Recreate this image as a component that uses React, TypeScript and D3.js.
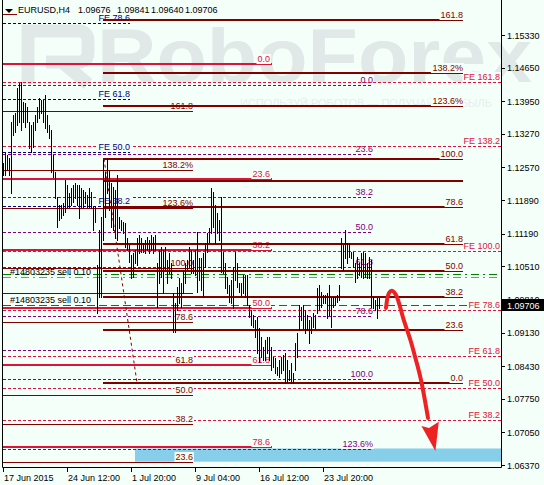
import React from 'react';
import * as d3 from 'd3';

const W = 544;
const H = 485;
const BG = '#F5FFFA';
const FONT = '"Liberation Sans", Arial, sans-serif';

// ---- OHLC bars (H4): highs and lows ----
const highs = [
  1.12662, 1.12871, 1.1283, 1.12767, 1.13517, 1.13663, 1.13704, 1.14225, 1.14329, 1.1435,
  1.13933, 1.13912, 1.13829, 1.13517, 1.13455, 1.13517, 1.13663, 1.13829, 1.14017, 1.13975,
  1.13975, 1.1408, 1.13663, 1.13455, 1.1335, 1.1283, 1.12475, 1.11954, 1.11787, 1.11787,
  1.11828, 1.12308, 1.12204, 1.12037, 1.12142, 1.12204, 1.12245, 1.12204, 1.12204, 1.12142,
  1.121, 1.12058, 1.11996, 1.12142, 1.12058, 1.11745, 1.11745, 1.10537, 1.11266, 1.11537,
  1.12725, 1.12475, 1.12767, 1.12517, 1.12245, 1.12162, 1.121, 1.12413, 1.11537, 1.11475,
  1.11433, 1.11412, 1.111, 1.10954, 1.10745, 1.10787, 1.1085, 1.111, 1.11162, 1.111,
  1.10995, 1.11058, 1.1112, 1.11058, 1.11162, 1.1112, 1.11162, 1.10579, 1.1085, 1.10912,
  1.1085, 1.10912, 1.10641, 1.10787, 1.10579, 1.09954, 1.09745, 1.10079, 1.10266, 1.10162,
  1.10433, 1.10579, 1.10641, 1.10912, 1.1085, 1.10641, 1.1085, 1.11225, 1.10683, 1.10683,
  1.10787, 1.10995, 1.11204, 1.11308, 1.12142, 1.12058, 1.11787, 1.1162, 1.11475, 1.11954,
  1.10808, 1.10579, 1.10287, 1.1012, 1.10225, 1.10496, 1.10808, 1.10579, 1.10162, 1.10162,
  1.10329, 1.10329, 1.10329, 1.09704, 1.09599, 1.09495, 1.09391, 1.09454, 1.09224, 1.09037,
  1.08829, 1.08974, 1.09037, 1.09037, 1.08829, 1.0862, 1.086, 1.08412, 1.08558, 1.0862,
  1.08662, 1.08704, 1.08558, 1.08349, 1.08495, 1.08287, 1.08912, 1.0912, 1.09704, 1.09662,
  1.09704, 1.09599, 1.09495, 1.09391, 1.09454, 1.09537, 1.09495, 1.10058, 1.1012, 1.09975,
  1.09912, 1.09912, 1.09954, 1.1012, 1.0985, 1.09871, 1.09871, 1.09912, 1.1012, 1.111,
  1.10954, 1.11266, 1.10995, 1.10995, 1.10808, 1.10808, 1.10579, 1.10704, 1.10579, 1.10787,
  1.10808, 1.10787, 1.10579, 1.10704, 1.10641, 1.09871, 1.09808, 1.0985, 1.09841,
];
const lows = [
  1.12413, 1.12413, 1.12517, 1.12413, 1.12037, 1.13246, 1.13308, 1.13455, 1.13517, 1.1335,
  1.13517, 1.13413, 1.13517, 1.12975, 1.12892, 1.12996, 1.1335, 1.13517, 1.136, 1.13704,
  1.13517, 1.13392, 1.13308, 1.13183, 1.12475, 1.12371, 1.11933, 1.11329, 1.11475, 1.11516,
  1.11579, 1.11641, 1.11724, 1.11745, 1.11787, 1.11849, 1.11933, 1.11787, 1.11516, 1.11724,
  1.11745, 1.11828, 1.11745, 1.11745, 1.11724, 1.11266, 1.11433, 1.09536, 1.09871, 1.09871,
  1.11058, 1.11537, 1.12037, 1.11683, 1.11329, 1.11266, 1.111, 1.11058, 1.11308, 1.11266,
  1.11204, 1.10912, 1.1085, 1.106, 1.10266, 1.10287, 1.10579, 1.10537, 1.10787, 1.10808,
  1.10808, 1.10787, 1.1085, 1.10787, 1.1085, 1.10787, 1.1085, 1.09662, 1.10162, 1.10287,
  1.09954, 1.10433, 1.10162, 1.1037, 1.10266, 1.09141, 1.09141, 1.09599, 1.09745, 1.09662,
  1.09954, 1.10162, 1.10433, 1.10496, 1.1037, 1.1037, 1.10329, 1.09975, 1.10225, 1.10016,
  1.09871, 1.10496, 1.10808, 1.11016, 1.11204, 1.11329, 1.10995, 1.11204, 1.11058, 1.10391,
  1.1037, 1.10058, 1.09954, 1.09766, 1.09745, 1.09641, 1.10225, 1.10079, 1.09975, 1.09912,
  1.09954, 1.09871, 1.09704, 1.09454, 1.09287, 1.09245, 1.09037, 1.08704, 1.08516, 1.0862,
  1.08558, 1.08558, 1.08704, 1.08558, 1.08349, 1.08412, 1.08287, 1.08245, 1.08204, 1.08287,
  1.08349, 1.08079, 1.081, 1.08141, 1.08079, 1.08079, 1.08349, 1.0862, 1.09183, 1.09391,
  1.09224, 1.0912, 1.09183, 1.08912, 1.0912, 1.09245, 1.09224, 1.09537, 1.09599, 1.09662,
  1.09745, 1.09745, 1.09433, 1.09495, 1.09245, 1.09662, 1.09704, 1.09766, 1.09808, 1.10475,
  1.10433, 1.10683, 1.10579, 1.10704, 1.10683, 1.10496, 1.10183, 1.10266, 1.10329, 1.10287,
  1.10266, 1.10287, 1.10266, 1.10266, 1.09662, 1.09641, 1.09599, 1.09433, 1.0964,
];

const header = ['EURUSD,H4', '1.09676', '1.09841', '1.09640', '1.09706'];
const lastPrice = 1.09706;

const priceTicks = [1.1533, 1.1465, 1.1395, 1.1327, 1.1257, 1.1189, 1.1119, 1.1051, 1.0981, 1.0913, 1.0843, 1.0775, 1.0705, 1.0637];
const timeTickIdx = [0, 32, 64, 96, 128, 160];
const timeTickLabels = ['17 Jun 2015', '24 Jun 12:00', '1 Jul 20:00', '9 Jul 04:00', '16 Jul 12:00', '23 Jul 20:00'];

// ---- Fibonacci objects (prices of 0% and 100%, levels, bar-index span) ----
const fiboPurpleLevels = [0, 23.6, 38.2, 50, 61.8, 78.6, 90, 100, 123.6];
const fiboPurpleLabels = ['0.0', '23.6', '38.2', '50.0', '61.8', '78.6', '', '100.0', '123.6%'];
const fiboPurpleAnchors = [1.14288, 1.08155];
const fiboPurpleSpan = [0, 184.5];

const feCrimsonLevels = [38.2, 50, 61.8, 78.6, 100, 138.2, 161.8];
const feCrimsonLabels = ['FE 38.2', 'FE 50.0', 'FE 61.8', 'FE 78.6', 'FE 100.0', 'FE 138.2', 'FE 161.8'];
const feCrimsonAnchors = [1.05119, 1.10829];
const feCrimsonSpan = [0, 249];

const feNavyLevels = [38.2, 50, 61.8, 78.6];
const feNavyLabels = ['FE 38.2', 'FE 50.0', 'FE 61.8', 'FE 78.6'];
const feNavyAnchors = [1.08177, 1.17596];
const feNavySpan = [0, 63.5];

const fiboThinLevels = [23.6, 38.2, 50, 61.8, 78.6, 90, 100, 123.6, 138.2, 161.8];
const fiboThinLabels = ['23.6', '38.2', '50.0', '61.8', '78.6', '', '100.0', '123.6%', '138.2%', '161.8'];
const fiboThinAnchors = [1.05192, 1.10485];
const fiboThinSpan = [0, 95];

const fiboRedLevels = [0, 23.6, 38.2, 50, 61.8, 78.6];
const fiboRedLabels = ['0.0', '23.6', '38.2', '50.0', '61.8', '78.6'];
const fiboRedAnchors = [1.14725, 1.04577];
const fiboRedSpan = [0, 134.5];

const fiboThickLevels = [0, 23.6, 38.2, 50, 61.8, 78.6, 90, 100, 123.6, 138.2, 161.8];
const fiboThickLabels = ['0.0', '23.6', '38.2', '50.0', '61.8', '78.6', '', '100.0', '123.6%', '138.2%', '161.8'];
const fiboThickAnchors = [1.08084, 1.12752];
const fiboThickSpan = [50, 230];
const fiboThickTrend = [[50.5, 1.12752], [67, 1.08084]];

// order lines
const orderGreenDashDot = 1.10349;
const orderOrangeDashDot = 1.10287;
const orderGreenDashed = 1.09703;
const orderText = '#14803235 sell 0.10';

// target zone and forecast arrow (bar index, price)
const zoneSpan = [66, 249];
const zonePrices = [1.06714, 1.06439];
const arrowPath = [
  [191.5, 1.09641], [193, 1.09954], [194.5, 1.10002], [196.5, 1.09912], [200.4, 1.09391],
  [203.7, 1.08974], [206.2, 1.086], [209, 1.08141], [212.5, 1.0735],
];
const arrowHead = [[216.2, 1.06662], [209.2, 1.07183], [213, 1.07141], [217.9, 1.07273]];

const x = d3.scaleLinear().domain([0, 249]).range([3, 501]);
const y = d3.scaleLinear().domain([1.0637, 1.1533]).range([465, 35]);

const charW: Record<string, number> = { '.': 2.5, '%': 8.6, F: 5.5, E: 6, ' ': 2.5 };
const estW = (s: string) => s.split('').reduce((a, c) => a + (charW[c] ?? 5), 0);

type FiboProps = {
  levels: number[];
  labels: string[];
  anchors: number[];
  span: number[];
  color: string;
  labelColor: string;
  thick?: boolean;
  dash?: string;
  labelEnd?: number;
};

function Fibo({ levels, labels, anchors, span, color, labelColor, thick, dash, labelEnd }: FiboProps) {
  const [p0, p100] = anchors;
  const x1 = Math.round(x(span[0]));
  const x2 = Math.round(x(span[1]));
  const lx = labelEnd ?? x2;
  return (
    <g>
      {levels.map((lv, i) => {
        const Y = Math.round(y(p0 + ((p100 - p0) * lv) / 100));
        return (
          <line key={'l' + i} x1={x1} x2={x2} y1={thick ? Y : Y + 0.5} y2={thick ? Y : Y + 0.5}
            stroke={color} strokeWidth={thick ? 2 : 1} strokeDasharray={dash} />
        );
      })}
      {levels.map((lv, i) => {
        const Y = Math.round(y(p0 + ((p100 - p0) * lv) / 100));
        const t = labels[i];
        if (!t) return null;
        const w = estW(t);
        return (
          <g key={'t' + i}>
            <rect x={lx - w - 1} y={Y - 10} width={w + 2} height={10} fill={BG} />
            <text x={lx} y={Y - 2} textAnchor="end" fontSize={9} fontFamily={FONT} fill={labelColor}>{t}</text>
          </g>
        );
      })}
    </g>
  );
}

export default function App() {
  const lastY = Math.round(y(lastPrice));
  const line = d3.line<number[]>().x((d) => x(d[0])).y((d) => y(d[1])).curve(d3.curveCatmullRom);
  const head = arrowHead.map((d) => `${x(d[0])},${y(d[1])}`).join(' ');
  const hY = (p: number) => Math.round(y(p));
  return (
    <div style={{ position: 'absolute', left: 0, top: 0 }}>
      <svg width={W} height={H} style={{ display: 'block' }}>
        <rect x={0} y={0} width={W} height={H} fill={BG} />
        {/* watermark */}
        <g fill="none" stroke="#e0e9e7" strokeWidth={13}>
          <path d="M28,84 V31 H78 Q88,31 88,41 V52 Q88,62 78,62 H46 M62,62 L88,84" />
        </g>
        <text x={97} y={82} fontSize={76} fontWeight={700} fontFamily={FONT} fill="#e0e9e7"
          textLength={435} lengthAdjust="spacingAndGlyphs">RoboForex</text>
        <text x={240} y={107} fontSize={11} fontFamily={FONT} fill="#e6eeec"
          textLength={252} lengthAdjust="spacingAndGlyphs">ИСПОЛЬЗУЙ РОБОТОВ — ПОЛУЧАЙ ПРИБЫЛЬ</text>

        {/* target zone */}
        <rect x={x(zoneSpan[0])} y={y(zonePrices[0])} width={x(zoneSpan[1]) - x(zoneSpan[0])}
          height={y(zonePrices[1]) - y(zonePrices[0])} fill="#87CEEB" />

        {/* orders */}
        <line x1={3} x2={501} y1={hY(orderGreenDashDot) + 0.5} y2={hY(orderGreenDashDot) + 0.5} stroke="#008000" strokeWidth={1} strokeDasharray="8,4,2,4" />
        <line x1={3} x2={501} y1={hY(orderOrangeDashDot) + 0.5} y2={hY(orderOrangeDashDot) + 0.5} stroke="#FF6A00" strokeWidth={1} strokeDasharray="8,4,2,4" />
        <line x1={3} x2={501} y1={hY(orderGreenDashed) + 0.5} y2={hY(orderGreenDashed) + 0.5} stroke="#008000" strokeWidth={1} strokeDasharray="8,4" />

        <Fibo levels={fiboPurpleLevels} labels={fiboPurpleLabels} anchors={fiboPurpleAnchors} span={fiboPurpleSpan}
          color="#800080" labelColor="#800080" dash="3,2" labelEnd={373} />
        <Fibo levels={feCrimsonLevels} labels={feCrimsonLabels} anchors={feCrimsonAnchors} span={feCrimsonSpan}
          color="#DC143C" labelColor="#DC143C" dash="3,2" labelEnd={500} />
        <Fibo levels={feNavyLevels} labels={feNavyLabels} anchors={feNavyAnchors} span={feNavySpan}
          color="#000080" labelColor="#000080" dash="3,2" />
        <Fibo levels={fiboThinLevels} labels={fiboThinLabels} anchors={fiboThinAnchors} span={fiboThinSpan}
          color="#800000" labelColor="#800000" />
        <Fibo levels={fiboRedLevels} labels={fiboRedLabels} anchors={fiboRedAnchors} span={fiboRedSpan}
          color="#DC143C" labelColor="#DC143C" thick labelEnd={270} />
        <line x1={x(fiboThickTrend[0][0])} y1={y(fiboThickTrend[0][1])} x2={x(fiboThickTrend[1][0])} y2={y(fiboThickTrend[1][1])}
          stroke="#800000" strokeWidth={1} strokeDasharray="3,3" />
        <Fibo levels={fiboThickLevels} labels={fiboThickLabels} anchors={fiboThickAnchors} span={fiboThickSpan}
          color="#800000" labelColor="#800000" thick />

        <text x={10} y={hY(orderOrangeDashDot) - 2} fontSize={9} fontFamily={FONT} fill="#000">{orderText}</text>
        <text x={10} y={hY(orderGreenDashed) - 2} fontSize={9} fontFamily={FONT} fill="#000">{orderText}</text>

        {/* bars */}
        <g stroke="#000" strokeWidth={1}>
          {highs.map((h, i) => (
            <line key={i} x1={Math.round(x(i)) + 0.5} x2={Math.round(x(i)) + 0.5}
              y1={Math.round(y(h))} y2={Math.round(y(lows[i])) + 1} />
          ))}
        </g>

        {/* forecast arrow */}
        <path d={line(arrowPath) ?? ''} fill="none" stroke="#EE2222" strokeWidth={4} strokeLinecap="round" />
        <polygon points={head} fill="#EE2222" />

        {/* frame */}
        <line x1={2.5} x2={2.5} y1={0} y2={467.5} stroke="#000" />
        <line x1={501.5} x2={501.5} y1={0} y2={467.5} stroke="#000" />
        <line x1={2.5} x2={501.5} y1={467.5} y2={467.5} stroke="#000" />

        {/* price axis */}
        {priceTicks.map((p) => (
          <g key={p}>
            <line x1={501} x2={505} y1={Math.round(y(p)) + 0.5} y2={Math.round(y(p)) + 0.5} stroke="#000" />
            <text x={507} y={y(p) + 3.5} fontSize={9} fontFamily={FONT} fill="#000">{p.toFixed(5)}</text>
          </g>
        ))}
        <rect x={502} y={lastY - 6} width={42} height={12} fill="#000" />
        <text x={507} y={lastY + 3.5} fontSize={9} fontFamily={FONT} fill="#fff">{lastPrice.toFixed(5)}</text>

        {/* time axis */}
        {timeTickIdx.map((t, i) => (
          <g key={t}>
            <line x1={Math.round(x(t)) + 0.5} x2={Math.round(x(t)) + 0.5} y1={467} y2={472} stroke="#000" />
            <text x={Math.round(x(t)) + 1} y={480.5} fontSize={9} fontFamily={FONT} fill="#000">{timeTickLabels[i]}</text>
          </g>
        ))}

        {/* header */}
        <polygon points="5,9 13,9 9,13" fill="#000" />
        <line x1={3} x2={17} y1={14.5} y2={14.5} stroke="#8B0000" />
        <text x={18} y={13.3} fontSize={9} fontFamily={FONT} fill="#000">{header[0]}</text>
        <text x={78} y={13.3} fontSize={9} fontFamily={FONT} fill="#000">{header[1]}</text>
        <text x={117} y={13.3} fontSize={9} fontFamily={FONT} fill="#000">{header[2]}</text>
        <text x={151} y={13.3} fontSize={9} fontFamily={FONT} fill="#000">{header[3]}</text>
        <text x={185} y={13.3} fontSize={9} fontFamily={FONT} fill="#000">{header[4]}</text>
      </svg>
    </div>
  );
}
